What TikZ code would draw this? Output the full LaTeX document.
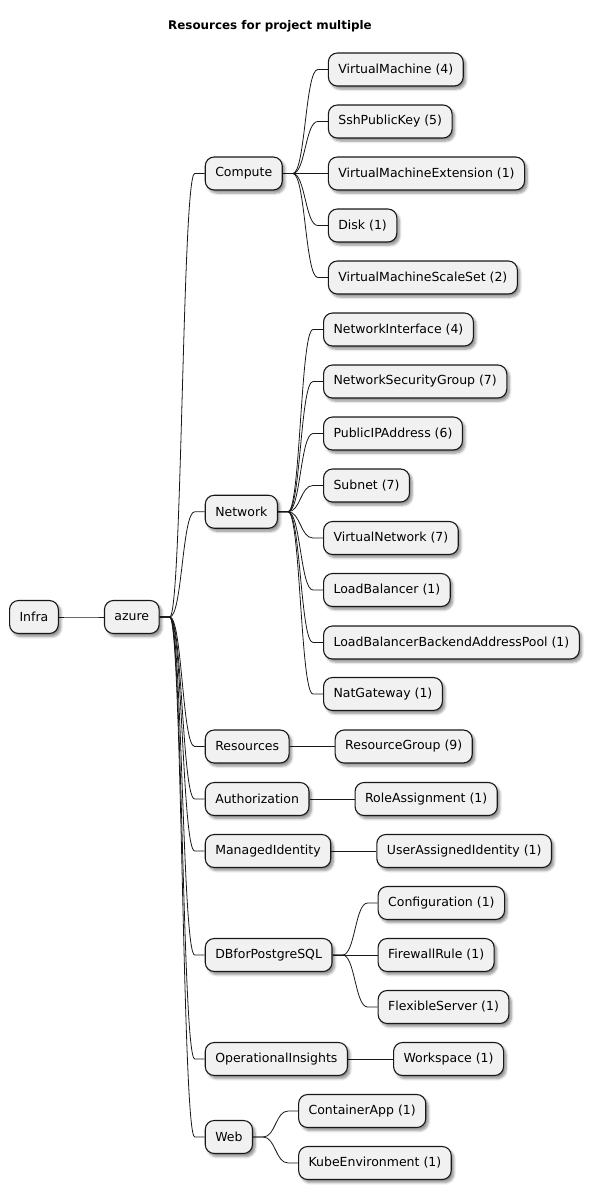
\documentclass[tikz,border=0pt]{standalone}
\usepackage{fontspec}
\setmainfont{DejaVu Sans}
\usetikzlibrary{calc,shadows.blur,backgrounds}
\definecolor{boxfill}{HTML}{F1F1F1}
\definecolor{boxline}{HTML}{181818}
\tikzset{
  box/.style={draw=boxline, fill=boxfill, line width=1.1pt, rounded corners=9pt,
    minimum height=33pt, inner xsep=10pt, inner ysep=0pt, anchor=west,
    font=\fontsize{12.5}{15}\selectfont,
    blur shadow={shadow blur steps=6, shadow xshift=2.5pt, shadow yshift=-3pt, shadow blur radius=2.5pt, shadow opacity=45}},
  child/.style={box, xshift=45pt},
  conn/.style={draw=boxline, line width=0.8pt}
}
\newcommand\mmconn[2]{%
  \draw[conn] let \p1=($(#1.east)+(10pt,0)$), \p2=($(#2.west)+(-10pt,0)$) in
    (#1.east) -- (\p1) .. controls ({(\x1+\x2)/2},\y1) and ({(\x1+\x2)/2},\y2) .. (\p2) -- (#2.west);}
\begin{document}
\begin{tikzpicture}[x=1pt,y=-1pt]
\useasboundingbox (0,0) rectangle (593,1200);
\node[font=\bfseries\fontsize{11.9}{14}\selectfont] (title) at (270,26) {Resources for project multiple};

\node[box] (infra) at (9,617) {Infra};
\node[child] (azure) at (infra.east |- 0,617) {azure};

\node[child] (compute) at (azure.east |- 0,173.5) {Compute};
\node[child] (vm) at (compute.east |- 0,69.5) {VirtualMachine (4)};
\node[child] (ssh) at (compute.east |- 0,121.5) {SshPublicKey (5)};
\node[child] (vmext) at (compute.east |- 0,173.5) {VirtualMachineExtension (1)};
\node[child] (disk) at (compute.east |- 0,225.5) {Disk (1)};
\node[child] (vmss) at (compute.east |- 0,277.5) {VirtualMachineScaleSet (2)};

\node[child] (network) at (azure.east |- 0,511.75) {Network};
\node[child] (nic) at (network.east |- 0,329.5) {NetworkInterface (4)};
\node[child] (nsg) at (network.east |- 0,381.5) {NetworkSecurityGroup (7)};
\node[child] (pip) at (network.east |- 0,433.5) {PublicIPAddress (6)};
\node[child] (subnet) at (network.east |- 0,485.5) {Subnet (7)};
\node[child] (vnet) at (network.east |- 0,538) {VirtualNetwork (7)};
\node[child] (lb) at (network.east |- 0,590) {LoadBalancer (1)};
\node[child] (lbbap) at (network.east |- 0,642.5) {LoadBalancerBackendAddressPool (1)};
\node[child] (nat) at (network.east |- 0,694) {NatGateway (1)};

\node[child] (resources) at (azure.east |- 0,746.5) {Resources};
\node[child] (rg) at (resources.east |- 0,746.5) {ResourceGroup (9)};

\node[child] (authz) at (azure.east |- 0,799) {Authorization};
\node[child] (ra) at (authz.east |- 0,799) {RoleAssignment (1)};

\node[child] (mi) at (azure.east |- 0,851) {ManagedIdentity};
\node[child] (uai) at (mi.east |- 0,851) {UserAssignedIdentity (1)};

\node[child] (db) at (azure.east |- 0,955) {DBforPostgreSQL};
\node[child] (config) at (db.east |- 0,903) {Configuration (1)};
\node[child] (fw) at (db.east |- 0,955) {FirewallRule (1)};
\node[child] (flex) at (db.east |- 0,1007) {FlexibleServer (1)};

\node[child] (oi) at (azure.east |- 0,1059) {OperationalInsights};
\node[child] (ws) at (oi.east |- 0,1059) {Workspace (1)};

\node[child] (web) at (azure.east |- 0,1137) {Web};
\node[child] (ca) at (web.east |- 0,1111) {ContainerApp (1)};
\node[child] (kube) at (web.east |- 0,1163) {KubeEnvironment (1)};

\begin{scope}[on background layer]
\mmconn{infra}{azure}
\foreach \c in {compute,network,resources,authz,mi,db,oi,web} {\mmconn{azure}{\c}}
\foreach \c in {vm,ssh,vmext,disk,vmss} {\mmconn{compute}{\c}}
\foreach \c in {nic,nsg,pip,subnet,vnet,lb,lbbap,nat} {\mmconn{network}{\c}}
\mmconn{resources}{rg}
\mmconn{authz}{ra}
\mmconn{mi}{uai}
\foreach \c in {config,fw,flex} {\mmconn{db}{\c}}
\mmconn{oi}{ws}
\mmconn{web}{ca}
\mmconn{web}{kube}
\end{scope}
\end{tikzpicture}
\end{document}
